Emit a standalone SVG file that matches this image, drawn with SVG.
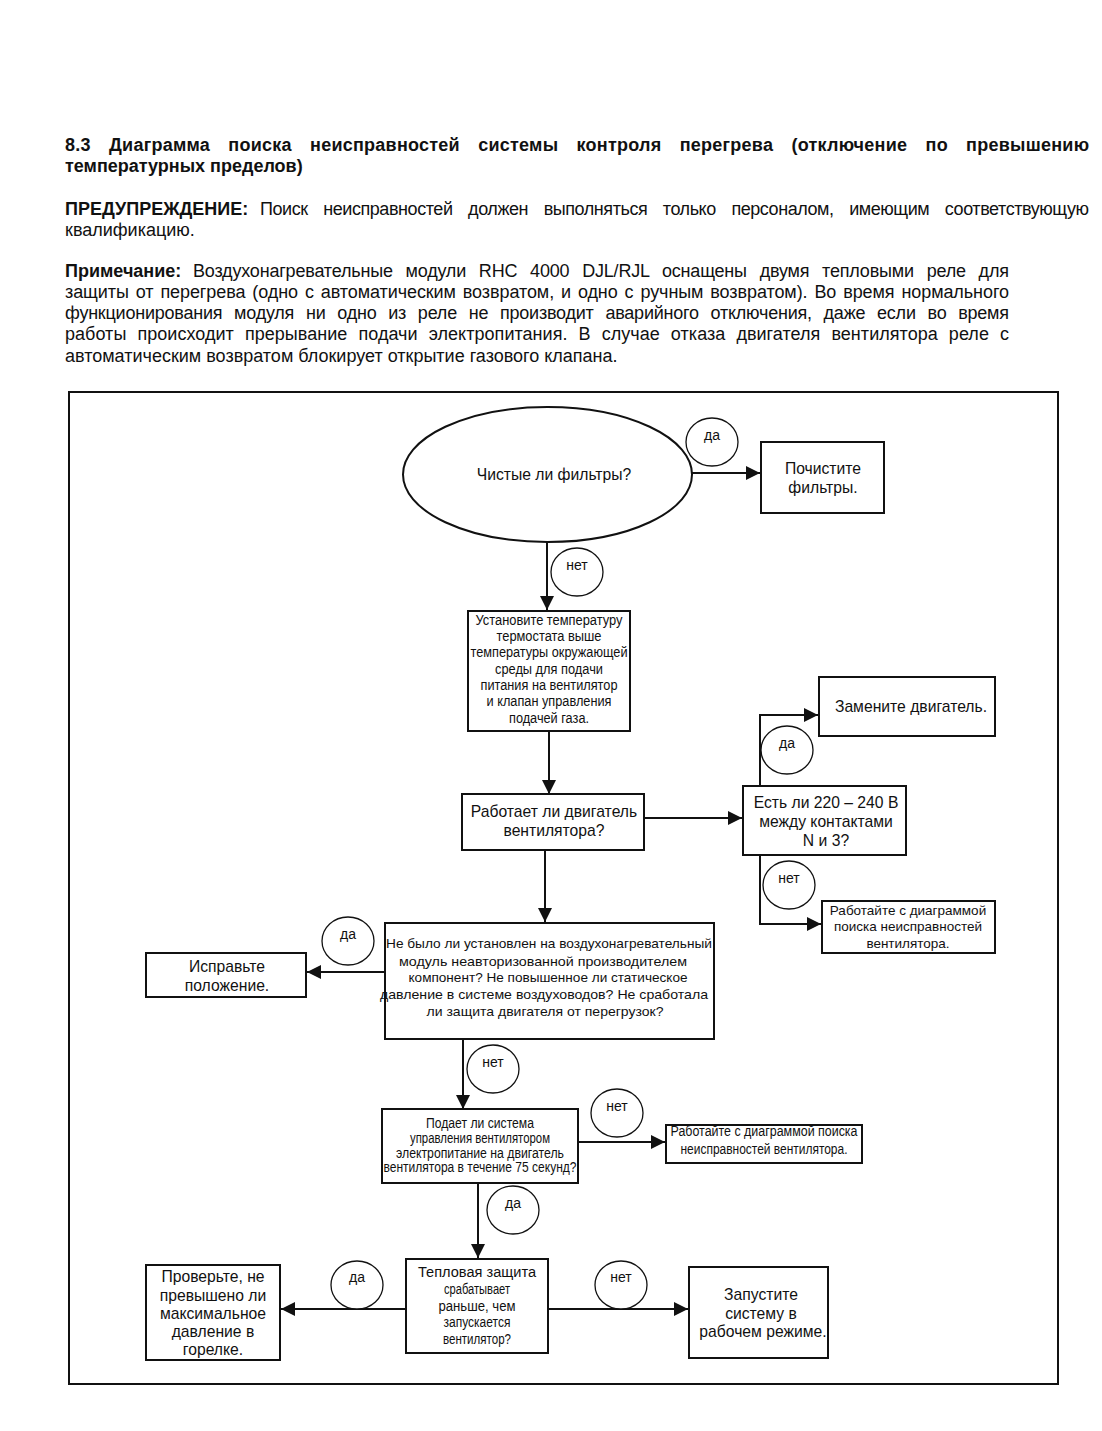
<svg xmlns="http://www.w3.org/2000/svg" width="1102" height="1431" viewBox="0 0 1102 1431">
<style>
.t{font-family:"Liberation Sans",Arial,sans-serif;fill:#111}
.b{font-weight:bold}
.c{text-anchor:middle}
.box{fill:#fff;stroke:#111;stroke-width:2}
.lbl{fill:#fff;stroke:#111;stroke-width:1.3}
.f18{font-size:18px}
.f15{font-size:15.7px}
.f14{font-size:14px}
.f13{font-size:13.5px}
.n{font-size:14px}
#conns line,#conns polyline{stroke:#111;stroke-width:2;fill:none;marker-end:url(#ah)}
</style>
<defs>
<marker id="ah" markerWidth="14" markerHeight="14" refX="14" refY="7" orient="auto" markerUnits="userSpaceOnUse"><path d="M0,0 L14,7 L0,14 z" fill="#111"/></marker>
</defs>
<rect width="1102" height="1431" fill="#fff"/>

<g id="header" class="t f18">
<text class="b" x="65" y="151" word-spacing="13" textLength="1024" lengthAdjust="spacing">8.3 Диаграмма поиска неисправностей системы контроля перегрева (отключение по превышению</text>
<text class="b" x="65" y="172">температурных пределов)</text>
<text class="b" x="65" y="215">ПРЕДУПРЕЖДЕНИЕ:</text>
<text x="260" y="215" word-spacing="11" textLength="829" lengthAdjust="spacing">Поиск неисправностей должен выполняться только персоналом, имеющим соответствующую</text>
<text x="65" y="236">квалификацию.</text>
<text class="b" x="65" y="277">Примечание:</text>
<text x="193" y="277" word-spacing="8" textLength="816" lengthAdjust="spacing">Воздухонагревательные модули RHC 4000 DJL/RJL оснащены двумя тепловыми реле для</text>
<text x="65" y="298" word-spacing="2" textLength="944" lengthAdjust="spacing">защиты от перегрева (одно с автоматическим возвратом, и одно с ручным возвратом). Во время нормального</text>
<text x="65" y="319" word-spacing="7" textLength="944" lengthAdjust="spacing">функционирования модуля ни одно из реле не производит аварийного отключения, даже если во время</text>
<text x="65" y="340" word-spacing="6" textLength="944" lengthAdjust="spacing">работы происходит прерывание подачи электропитания. В случае отказа двигателя вентилятора реле с</text>
<text x="65" y="362">автоматическим возвратом блокирует открытие газового клапана.</text>
</g>

<rect id="frame" x="69" y="392" width="989" height="992" fill="none" stroke="#111" stroke-width="2"/>

<g id="conns">
<line x1="692" y1="473" x2="760" y2="473"/>
<line x1="547" y1="542" x2="547" y2="610"/>
<line x1="549" y1="731" x2="549" y2="794"/>
<line x1="644" y1="818" x2="742" y2="818"/>
<polyline points="760,786 760,715 818,715"/>
<polyline points="760,855 760,924 821,924"/>
<line x1="545" y1="850" x2="545" y2="922"/>
<line x1="385" y1="972" x2="307" y2="972"/>
<line x1="463" y1="1039" x2="463" y2="1109"/>
<line x1="578" y1="1142" x2="665" y2="1142"/>
<line x1="478" y1="1183" x2="478" y2="1258"/>
<line x1="406" y1="1309" x2="281" y2="1309"/>
<line x1="548" y1="1309" x2="688" y2="1309"/>
</g>

<g id="labels" class="t f14 c">
<ellipse class="lbl" cx="712" cy="442" rx="26" ry="24"/><text x="712" y="440">да</text>
<ellipse class="lbl" cx="577" cy="572" rx="26" ry="24"/><text x="577" y="570">нет</text>
<ellipse class="lbl" cx="787" cy="750" rx="26" ry="24"/><text x="787" y="748">да</text>
<ellipse class="lbl" cx="789" cy="885" rx="26" ry="24"/><text x="789" y="883">нет</text>
<ellipse class="lbl" cx="348" cy="941" rx="26" ry="24"/><text x="348" y="939">да</text>
<ellipse class="lbl" cx="493" cy="1069" rx="26" ry="24"/><text x="493" y="1067">нет</text>
<ellipse class="lbl" cx="617" cy="1113" rx="26" ry="24"/><text x="617" y="1111">нет</text>
<ellipse class="lbl" cx="513" cy="1210" rx="26" ry="24"/><text x="513" y="1208">да</text>
<ellipse class="lbl" cx="357" cy="1285" rx="26" ry="24"/><text x="357" y="1282">да</text>
<ellipse class="lbl" cx="621" cy="1285" rx="26" ry="24"/><text x="621" y="1282">нет</text>
</g>

<g id="n-filters" class="t f15 c">
<ellipse class="box" cx="547.5" cy="474.5" rx="144.5" ry="67.5"/>
<text x="554" y="480">Чистые ли фильтры?</text>
</g>

<g id="n-clean" class="t f15 c">
<rect class="box" x="761" y="442" width="123" height="71"/>
<text x="823" y="474">Почистите</text>
<text x="823" y="493">фильтры.</text>
</g>

<g id="n-thermostat" class="t n c">
<rect class="box" x="468" y="611" width="162" height="120"/>
<text x="549" y="625" textLength="147" lengthAdjust="spacingAndGlyphs">Установите температуру</text>
<text x="549" y="641" textLength="105" lengthAdjust="spacingAndGlyphs">термостата выше</text>
<text x="549" y="657" textLength="157" lengthAdjust="spacingAndGlyphs">температуры окружающей</text>
<text x="549" y="674" textLength="108" lengthAdjust="spacingAndGlyphs">среды для подачи</text>
<text x="549" y="690" textLength="137" lengthAdjust="spacingAndGlyphs">питания на вентилятор</text>
<text x="549" y="706" textLength="125" lengthAdjust="spacingAndGlyphs">и клапан управления</text>
<text x="549" y="723" textLength="80" lengthAdjust="spacingAndGlyphs">подачей газа.</text>
</g>

<g id="n-motor" class="t f15 c">
<rect class="box" x="462" y="794" width="182" height="56"/>
<text x="554" y="817">Работает ли двигатель</text>
<text x="554" y="836">вентилятора?</text>
</g>

<g id="n-voltage" class="t f15 c">
<rect class="box" x="743" y="786" width="163" height="69"/>
<text x="826" y="808">Есть ли 220 – 240 В</text>
<text x="826" y="827">между контактами</text>
<text x="826" y="846">N и 3?</text>
</g>

<g id="n-replace" class="t f15 c">
<rect class="box" x="819" y="677" width="176" height="59"/>
<text x="911" y="712">Замените двигатель.</text>
</g>

<g id="n-fan1" class="t f13 c">
<rect class="box" x="822" y="901" width="173" height="52"/>
<text x="908" y="915">Работайте с диаграммой</text>
<text x="908" y="931">поиска неисправностей</text>
<text x="908" y="948">вентилятора.</text>
</g>

<g id="n-unauth" class="t f13 c">
<rect class="box" x="385" y="923" width="329" height="116"/>
<text x="549" y="948" textLength="326" lengthAdjust="spacingAndGlyphs">Не было ли установлен на воздухонагревательный</text>
<text x="543" y="966" textLength="288" lengthAdjust="spacingAndGlyphs">модуль неавторизованной производителем</text>
<text x="548" y="982" textLength="279" lengthAdjust="spacingAndGlyphs">компонент? Не повышенное ли статическое</text>
<text x="544" y="999" textLength="328" lengthAdjust="spacingAndGlyphs">давление в системе воздуховодов? Не сработала</text>
<text x="545" y="1016" textLength="237" lengthAdjust="spacingAndGlyphs">ли защита двигателя от перегрузок?</text>
</g>

<g id="n-fix" class="t f15 c">
<rect class="box" x="146" y="953" width="160" height="44"/>
<text x="227" y="972">Исправьте</text>
<text x="227" y="991">положение.</text>
</g>

<g id="n-control" class="t n c">
<rect class="box" x="382" y="1109" width="196" height="74"/>
<text x="480" y="1128" textLength="108" lengthAdjust="spacingAndGlyphs">Подает ли система</text>
<text x="480" y="1143" textLength="140" lengthAdjust="spacingAndGlyphs">управления вентилятором</text>
<text x="480" y="1158" textLength="168" lengthAdjust="spacingAndGlyphs">электропитание на двигатель</text>
<text x="480" y="1172" textLength="193" lengthAdjust="spacingAndGlyphs">вентилятора в течение 75 секунд?</text>
</g>

<g id="n-fan2" class="t n c">
<rect class="box" x="666" y="1125" width="196" height="38"/>
<text x="764" y="1136" textLength="187" lengthAdjust="spacingAndGlyphs">Работайте с диаграммой поиска</text>
<text x="764" y="1154" textLength="167" lengthAdjust="spacingAndGlyphs">неисправностей вентилятора.</text>
</g>

<g id="n-thermal" class="t n c">
<rect class="box" x="406" y="1259" width="142" height="94"/>
<text x="477" y="1277" textLength="118" lengthAdjust="spacingAndGlyphs">Тепловая защита</text>
<text x="477" y="1294" textLength="66" lengthAdjust="spacingAndGlyphs">срабатывает</text>
<text x="477" y="1311" textLength="77" lengthAdjust="spacingAndGlyphs">раньше, чем</text>
<text x="477" y="1327" textLength="67" lengthAdjust="spacingAndGlyphs">запускается</text>
<text x="477" y="1344" textLength="68" lengthAdjust="spacingAndGlyphs">вентилятор?</text>
</g>

<g id="n-pressure" class="t f15 c">
<rect class="box" x="146" y="1265" width="134" height="95"/>
<text x="213" y="1282">Проверьте, не</text>
<text x="213" y="1301">превышено ли</text>
<text x="213" y="1319">максимальное</text>
<text x="213" y="1337">давление в</text>
<text x="213" y="1355">горелке.</text>
</g>

<g id="n-start" class="t f15 c">
<rect class="box" x="689" y="1267" width="139" height="91"/>
<text x="761" y="1300">Запустите</text>
<text x="761" y="1319">систему в</text>
<text x="763" y="1337">рабочем режиме.</text>
</g>
</svg>
